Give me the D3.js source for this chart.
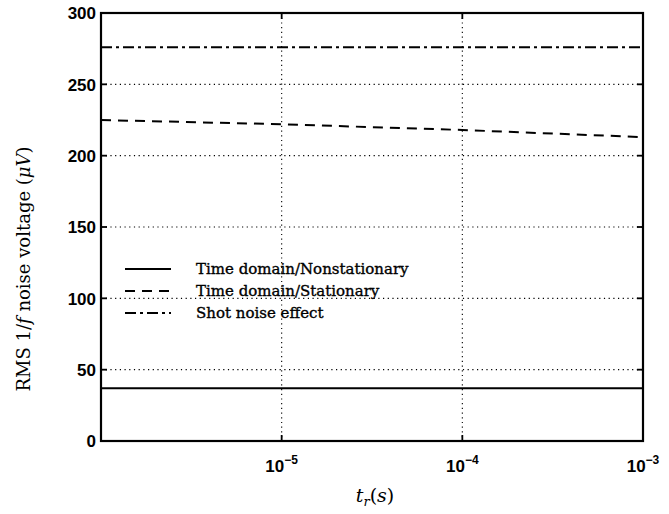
<!DOCTYPE html>
<html>
<head>
<meta charset="utf-8">
<script src="https://cdn.jsdelivr.net/npm/d3@7"></script>
<style>
  body { margin: 0; background: #fff; }
  svg { display: block; }
</style>
</head>
<body>
<div id="chart"></div>
<script>
// ---------- data ----------
const tr = [1e-6, 1e-5, 1e-4, 1e-3];
const nonstationary = [37, 37, 37, 37];
const stationary = [225, 222, 218, 213];
const shotNoise = [276, 276, 276, 276];
const yTicks = [0, 50, 100, 150, 200, 250, 300];
const xTicks = [1e-5, 1e-4, 1e-3];
const xTickExp = ["-5", "-4", "-3"];
const seriesNames = ["Time domain/Nonstationary", "Time domain/Stationary", "Shot noise effect"];

// ---------- layout ----------
const W = 669, H = 514;
const margin = { top: 13, right: 26, bottom: 73, left: 101 };
const iw = W - margin.left - margin.right;
const ih = H - margin.top - margin.bottom;
const serif = "DejaVu Serif, Liberation Serif, serif";
const sans = "Liberation Sans, Arial, sans-serif";

const svg = d3.select("#chart").append("svg")
  .attr("width", W)
  .attr("height", H);

const g = svg.append("g").attr("transform", `translate(${margin.left},${margin.top})`);

const x = d3.scaleLog().domain([1e-6, 1e-3]).range([0, iw]);
const y = d3.scaleLinear().domain([0, 300]).range([ih, 0]);

// grid (dotted)
g.append("g").selectAll("line")
  .data(yTicks.slice(1, -1))
  .enter().append("line")
  .attr("x1", 0).attr("x2", iw)
  .attr("y1", d => y(d)).attr("y2", d => y(d))
  .attr("stroke", "#000").attr("stroke-width", 1.1)
  .attr("stroke-dasharray", "1.2,3.5");

g.append("g").selectAll("line")
  .data(xTicks.slice(0, -1))
  .enter().append("line")
  .attr("x1", d => x(d)).attr("x2", d => x(d))
  .attr("y1", 0).attr("y2", ih)
  .attr("stroke", "#000").attr("stroke-width", 1.1)
  .attr("stroke-dasharray", "1.2,3.5");

// y tick labels
const yAxis = d3.axisLeft(y).tickValues(yTicks).tickSize(0).tickPadding(5);
const yg = g.append("g").call(yAxis);
yg.select(".domain").remove();
yg.selectAll("text")
  .attr("font-family", sans)
  .attr("font-size", 17)
  .attr("font-weight", "bold")
  .attr("fill", "#000")
  .attr("dy", "0.35em");

// inner ticks
[0, iw].forEach(x0 => {
  g.append("g").selectAll("line")
    .data(yTicks)
    .enter().append("line")
    .attr("x1", x0).attr("x2", x0 === 0 ? 6 : iw - 6)
    .attr("y1", d => y(d)).attr("y2", d => y(d))
    .attr("stroke", "#000").attr("stroke-width", 1.8);
});
[0, ih].forEach(y0 => {
  g.append("g").selectAll("line")
    .data(xTicks)
    .enter().append("line")
    .attr("x1", d => x(d)).attr("x2", d => x(d))
    .attr("y1", y0).attr("y2", y0 === 0 ? 6 : ih - 6)
    .attr("stroke", "#000").attr("stroke-width", 1.8);
});

// x tick labels: 10^exp
const xl = g.append("g").selectAll("text")
  .data(xTicks)
  .enter().append("text")
  .attr("x", d => x(d))
  .attr("y", ih + 31)
  .attr("text-anchor", "middle")
  .attr("font-family", sans)
  .attr("font-weight", "bold")
  .attr("font-size", 17)
  .attr("fill", "#000");
xl.append("tspan").text("10");
xl.append("tspan")
  .attr("dy", -8)
  .attr("font-size", 12)
  .text((d, i) => "\u2212" + xTickExp[i].slice(1));

// frame
g.append("rect")
  .attr("x", 0).attr("y", 0)
  .attr("width", iw).attr("height", ih)
  .attr("fill", "none")
  .attr("stroke", "#000").attr("stroke-width", 2.2);

// series
const line = d3.line().x((d, i) => x(tr[i])).y(d => y(d));
const styles = [
  { data: nonstationary, dash: null },
  { data: stationary, dash: "10,7" },
  { data: shotNoise, dash: "11,4,3,4" }
];
styles.forEach(s => {
  g.append("path")
    .datum(s.data)
    .attr("d", line)
    .attr("fill", "none")
    .attr("stroke", "#000")
    .attr("stroke-width", 2)
    .attr("stroke-dasharray", s.dash);
});

// legend
const legend = g.append("g").attr("transform", "translate(24,256)");
seriesNames.forEach((name, i) => {
  const ly = i * 22;
  legend.append("line")
    .attr("x1", 0).attr("x2", 46)
    .attr("y1", ly).attr("y2", ly)
    .attr("stroke", "#000")
    .attr("stroke-width", 2)
    .attr("stroke-dasharray", styles[i].dash);
  legend.append("text")
    .attr("x", 71).attr("y", ly)
    .attr("dy", "0.35em")
    .attr("font-family", serif)
    .attr("font-size", 15)
    .attr("fill", "#000")
    .attr("stroke", "#000")
    .attr("stroke-width", 0.35)
    .text(name);
});

// axis labels
const xt = svg.append("text")
  .attr("x", margin.left + iw / 2 + 3)
  .attr("y", 502)
  .attr("text-anchor", "middle")
  .attr("font-family", serif)
  .attr("font-size", 19)
  .attr("fill", "#000");
xt.append("tspan").attr("font-style", "italic").text("t");
xt.append("tspan").attr("font-style", "italic").attr("font-size", 13).attr("dy", 4).text("r");
xt.append("tspan").attr("dy", -4).text("(");
xt.append("tspan").attr("font-style", "italic").text("s");
xt.append("tspan").text(")");

const yt = svg.append("text")
  .attr("transform", `translate(30,${margin.top + ih / 2 + 42}) rotate(-90)`)
  .attr("text-anchor", "middle")
  .attr("font-family", serif)
  .attr("font-size", 18)
  .attr("fill", "#000");
yt.append("tspan").text("RMS 1/");
yt.append("tspan").attr("font-style", "italic").text("f");
yt.append("tspan").text(" noise voltage (");
yt.append("tspan").attr("font-style", "italic").text("\u03bcV");
yt.append("tspan").text(")");
</script>
</body>
</html>
